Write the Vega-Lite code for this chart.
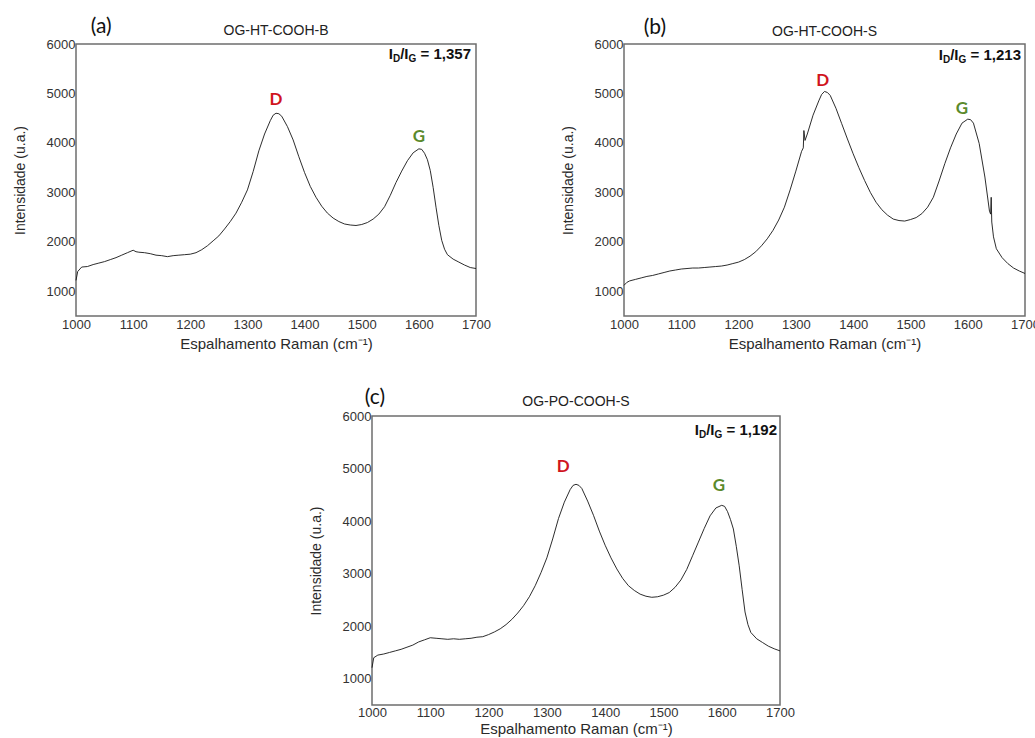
{
  "$schema": "https://vega.github.io/schema/vega-lite/v6.json",
  "background": "white",
  "padding": {"left": 12, "top": 14, "right": 0, "bottom": 0},
  "spacing": 34,
  "datasets": {
    "specA": [
      {"x":1000,"y":1220},{"x":1003,"y":1400},{"x":1010,"y":1490},{"x":1020,"y":1500},{"x":1030,"y":1540},{"x":1040,"y":1570},{"x":1050,"y":1600},{"x":1060,"y":1640},{"x":1070,"y":1680},{"x":1080,"y":1730},{"x":1090,"y":1780},{"x":1100,"y":1830},{"x":1105,"y":1800},{"x":1110,"y":1790},{"x":1120,"y":1780},{"x":1130,"y":1760},{"x":1140,"y":1730},{"x":1150,"y":1720},{"x":1160,"y":1700},{"x":1170,"y":1720},{"x":1180,"y":1730},{"x":1190,"y":1740},{"x":1200,"y":1750},{"x":1210,"y":1780},{"x":1220,"y":1840},{"x":1230,"y":1920},{"x":1240,"y":2020},{"x":1250,"y":2120},{"x":1260,"y":2260},{"x":1270,"y":2410},{"x":1280,"y":2580},{"x":1290,"y":2800},{"x":1300,"y":3050},{"x":1310,"y":3420},{"x":1320,"y":3840},{"x":1330,"y":4180},{"x":1340,"y":4450},{"x":1345,"y":4560},{"x":1350,"y":4600},{"x":1355,"y":4590},{"x":1360,"y":4540},{"x":1370,"y":4330},{"x":1380,"y":4060},{"x":1390,"y":3720},{"x":1400,"y":3400},{"x":1410,"y":3120},{"x":1420,"y":2900},{"x":1430,"y":2720},{"x":1440,"y":2580},{"x":1450,"y":2480},{"x":1460,"y":2410},{"x":1470,"y":2360},{"x":1480,"y":2340},{"x":1490,"y":2330},{"x":1500,"y":2350},{"x":1510,"y":2390},{"x":1520,"y":2460},{"x":1530,"y":2560},{"x":1540,"y":2710},{"x":1550,"y":2940},{"x":1560,"y":3200},{"x":1570,"y":3430},{"x":1580,"y":3640},{"x":1590,"y":3800},{"x":1600,"y":3880},{"x":1605,"y":3870},{"x":1610,"y":3790},{"x":1615,"y":3660},{"x":1620,"y":3440},{"x":1625,"y":3100},{"x":1630,"y":2700},{"x":1635,"y":2330},{"x":1640,"y":2030},{"x":1645,"y":1850},{"x":1650,"y":1740},{"x":1660,"y":1650},{"x":1670,"y":1590},{"x":1680,"y":1530},{"x":1690,"y":1480},{"x":1700,"y":1460}
    ],
    "specB": [
      {"x":1000,"y":1120},{"x":1005,"y":1180},{"x":1010,"y":1210},{"x":1020,"y":1240},{"x":1030,"y":1270},{"x":1040,"y":1300},{"x":1050,"y":1320},{"x":1060,"y":1350},{"x":1070,"y":1380},{"x":1080,"y":1410},{"x":1090,"y":1430},{"x":1100,"y":1450},{"x":1110,"y":1460},{"x":1120,"y":1470},{"x":1130,"y":1470},{"x":1140,"y":1480},{"x":1150,"y":1490},{"x":1160,"y":1500},{"x":1170,"y":1510},{"x":1180,"y":1530},{"x":1190,"y":1560},{"x":1200,"y":1590},{"x":1210,"y":1640},{"x":1220,"y":1710},{"x":1230,"y":1800},{"x":1240,"y":1920},{"x":1250,"y":2060},{"x":1260,"y":2230},{"x":1270,"y":2440},{"x":1280,"y":2700},{"x":1290,"y":3050},{"x":1300,"y":3430},{"x":1310,"y":3830},{"x":1313,"y":3900},{"x":1314,"y":4250},{"x":1316,"y":4050},{"x":1320,"y":4180},{"x":1330,"y":4560},{"x":1340,"y":4850},{"x":1345,"y":4980},{"x":1350,"y":5040},{"x":1355,"y":5020},{"x":1360,"y":4960},{"x":1370,"y":4700},{"x":1380,"y":4390},{"x":1390,"y":4080},{"x":1400,"y":3780},{"x":1410,"y":3500},{"x":1420,"y":3240},{"x":1430,"y":3000},{"x":1440,"y":2800},{"x":1450,"y":2650},{"x":1460,"y":2540},{"x":1470,"y":2460},{"x":1480,"y":2430},{"x":1490,"y":2420},{"x":1500,"y":2450},{"x":1510,"y":2490},{"x":1520,"y":2570},{"x":1530,"y":2700},{"x":1540,"y":2900},{"x":1550,"y":3230},{"x":1560,"y":3580},{"x":1570,"y":3900},{"x":1580,"y":4180},{"x":1590,"y":4400},{"x":1600,"y":4480},{"x":1605,"y":4470},{"x":1610,"y":4400},{"x":1620,"y":3990},{"x":1630,"y":3310},{"x":1638,"y":2620},{"x":1640,"y":2560},{"x":1641,"y":2900},{"x":1642,"y":2400},{"x":1645,"y":2100},{"x":1650,"y":1860},{"x":1660,"y":1680},{"x":1670,"y":1560},{"x":1680,"y":1470},{"x":1690,"y":1410},{"x":1700,"y":1360}
    ],
    "specC": [
      {"x":1000,"y":1210},{"x":1003,"y":1400},{"x":1010,"y":1450},{"x":1020,"y":1470},{"x":1030,"y":1500},{"x":1040,"y":1530},{"x":1050,"y":1560},{"x":1060,"y":1600},{"x":1070,"y":1640},{"x":1080,"y":1700},{"x":1090,"y":1740},{"x":1100,"y":1780},{"x":1110,"y":1770},{"x":1120,"y":1760},{"x":1130,"y":1750},{"x":1140,"y":1760},{"x":1150,"y":1750},{"x":1160,"y":1760},{"x":1170,"y":1770},{"x":1180,"y":1790},{"x":1190,"y":1800},{"x":1200,"y":1840},{"x":1210,"y":1890},{"x":1220,"y":1950},{"x":1230,"y":2030},{"x":1240,"y":2130},{"x":1250,"y":2250},{"x":1260,"y":2390},{"x":1270,"y":2560},{"x":1280,"y":2770},{"x":1290,"y":3020},{"x":1300,"y":3300},{"x":1310,"y":3660},{"x":1320,"y":4050},{"x":1330,"y":4360},{"x":1340,"y":4600},{"x":1345,"y":4680},{"x":1350,"y":4700},{"x":1355,"y":4680},{"x":1360,"y":4620},{"x":1370,"y":4380},{"x":1380,"y":4110},{"x":1390,"y":3810},{"x":1400,"y":3540},{"x":1410,"y":3300},{"x":1420,"y":3090},{"x":1430,"y":2910},{"x":1440,"y":2770},{"x":1450,"y":2680},{"x":1460,"y":2610},{"x":1470,"y":2570},{"x":1480,"y":2550},{"x":1490,"y":2560},{"x":1500,"y":2590},{"x":1510,"y":2640},{"x":1520,"y":2740},{"x":1530,"y":2880},{"x":1540,"y":3080},{"x":1550,"y":3340},{"x":1560,"y":3600},{"x":1570,"y":3860},{"x":1580,"y":4100},{"x":1590,"y":4250},{"x":1600,"y":4300},{"x":1605,"y":4280},{"x":1610,"y":4180},{"x":1615,"y":4030},{"x":1620,"y":3850},{"x":1625,"y":3520},{"x":1630,"y":3150},{"x":1635,"y":2700},{"x":1640,"y":2270},{"x":1645,"y":2030},{"x":1650,"y":1880},{"x":1660,"y":1760},{"x":1670,"y":1690},{"x":1680,"y":1620},{"x":1690,"y":1570},{"x":1700,"y":1530}
    ],
    "peaks": [
      {"panel":"a","band":"D","x":1350,"y":4767},{"panel":"a","band":"G","x":1600,"y":4018},
      {"panel":"b","band":"D","x":1347,"y":5151},{"panel":"b","band":"G","x":1590,"y":4584},
      {"panel":"c","band":"D","x":1328,"y":4934},{"panel":"c","band":"G","x":1595,"y":4573}
    ],
    "ratioMain": [
      {"panel":"a","text":"I","x":1554.75,"y":5697},{"panel":"a","text":"/I","x":1581.9,"y":5697},{"panel":"a","text":"= 1,357","x":1691.25,"y":5697},
      {"panel":"b","text":"I","x":1556.9,"y":5676},{"panel":"b","text":"/I","x":1583.9,"y":5676},{"panel":"b","text":"= 1,213","x":1693.0,"y":5676},
      {"panel":"c","text":"I","x":1561.0,"y":5638},{"panel":"c","text":"/I","x":1587.6,"y":5638},{"panel":"c","text":"= 1,192","x":1694.9,"y":5638}
    ],
    "ratioSub": [
      {"panel":"a","text":"D","x":1567.4,"y":5626},{"panel":"a","text":"G","x":1595.5,"y":5626},
      {"panel":"b","text":"D","x":1569.4,"y":5606},{"panel":"b","text":"G","x":1597.5,"y":5606},
      {"panel":"c","text":"D","x":1573.4,"y":5572},{"panel":"c","text":"G","x":1601.0,"y":5572}
    ],
    "tags": [
      {"panel":"a","text":"(a)","x":1044,"y":6232},
      {"panel":"b","text":"(b)","x":1054,"y":6200},
      {"panel":"c","text":"(c)","x":1005,"y":6229}
    ]
  },
  "vconcat": [
    {
      "spacing": 68,
      "hconcat": [
        {
          "width": 400, "height": 272,
          "title": {"text": "OG-HT-COOH-B"},
          "encoding": {
            "x": {"field": "x", "type": "quantitative", "scale": {"domain": [1000, 1700], "nice": false, "zero": false},
                  "axis": {"title": "Espalhamento Raman (cm⁻¹)", "values": [1000,1100,1200,1300,1400,1500,1600,1700], "format": "d"}},
            "y": {"field": "y", "type": "quantitative", "scale": {"domain": [500, 6000], "nice": false, "zero": false},
                  "axis": {"title": "Intensidade (u.a.)", "values": [1000,2000,3000,4000,5000,6000], "format": "d"}}
          },
          "layer": [
            {"data": {"name": "specA"}, "mark": {"type": "line", "color": "#151515", "strokeWidth": 0.9}},
            {"data": {"name": "peaks"}, "transform": [{"filter": "datum.panel === 'a'"}],
             "mark": {"type": "text", "font": "Lato", "fontSize": 17, "fontWeight": "bold", "baseline": "alphabetic", "align": "center"},
             "encoding": {
               "text": {"field": "band"},
               "color": {"field": "band", "type": "nominal", "scale": {"domain": ["D", "G"], "range": ["#d0141e", "#5b8a2c"]}, "legend": null}
             }},
            {"data": {"name": "ratioMain"}, "transform": [{"filter": "datum.panel === 'a'"}],
             "mark": {"type": "text", "fontSize": 15, "fontWeight": "bold", "baseline": "alphabetic", "align": "right", "color": "#111"},
             "encoding": {"text": {"field": "text"}}},
            {"data": {"name": "ratioSub"}, "transform": [{"filter": "datum.panel === 'a'"}],
             "mark": {"type": "text", "fontSize": 10, "fontWeight": "bold", "baseline": "alphabetic", "align": "right", "color": "#111"},
             "encoding": {"text": {"field": "text"}}},
            {"data": {"name": "tags"}, "transform": [{"filter": "datum.panel === 'a'"}],
             "mark": {"type": "text", "font": "Lato", "fontSize": 21, "baseline": "alphabetic", "align": "center", "color": "#111"},
             "encoding": {"text": {"field": "text"}}}
          ]
        },
        {
          "width": 401, "height": 272,
          "title": {"text": "OG-HT-COOH-S"},
          "encoding": {
            "x": {"field": "x", "type": "quantitative", "scale": {"domain": [1000, 1700], "nice": false, "zero": false},
                  "axis": {"title": "Espalhamento Raman (cm⁻¹)", "values": [1000,1100,1200,1300,1400,1500,1600,1700], "format": "d"}},
            "y": {"field": "y", "type": "quantitative", "scale": {"domain": [500, 6000], "nice": false, "zero": false},
                  "axis": {"title": "Intensidade (u.a.)", "values": [1000,2000,3000,4000,5000,6000], "format": "d"}}
          },
          "layer": [
            {"data": {"name": "specB"}, "mark": {"type": "line", "color": "#151515", "strokeWidth": 0.9}},
            {"data": {"name": "peaks"}, "transform": [{"filter": "datum.panel === 'b'"}],
             "mark": {"type": "text", "font": "Lato", "fontSize": 17, "fontWeight": "bold", "baseline": "alphabetic", "align": "center"},
             "encoding": {
               "text": {"field": "band"},
               "color": {"field": "band", "type": "nominal", "scale": {"domain": ["D", "G"], "range": ["#d0141e", "#5b8a2c"]}, "legend": null}
             }},
            {"data": {"name": "ratioMain"}, "transform": [{"filter": "datum.panel === 'b'"}],
             "mark": {"type": "text", "fontSize": 15, "fontWeight": "bold", "baseline": "alphabetic", "align": "right", "color": "#111"},
             "encoding": {"text": {"field": "text"}}},
            {"data": {"name": "ratioSub"}, "transform": [{"filter": "datum.panel === 'b'"}],
             "mark": {"type": "text", "fontSize": 10, "fontWeight": "bold", "baseline": "alphabetic", "align": "right", "color": "#111"},
             "encoding": {"text": {"field": "text"}}},
            {"data": {"name": "tags"}, "transform": [{"filter": "datum.panel === 'b'"}],
             "mark": {"type": "text", "font": "Lato", "fontSize": 21, "baseline": "alphabetic", "align": "center", "color": "#111"},
             "encoding": {"text": {"field": "text"}}}
          ]
        }
      ]
    },
    {
      "spacing": 10,
      "hconcat": [
        {
          "width": 222, "height": 10,
          "view": {"stroke": null},
          "data": {"values": [{}]},
          "mark": {"type": "text", "text": ""}
        },
        {
          "width": 408, "height": 289,
          "title": {"text": "OG-PO-COOH-S"},
          "encoding": {
            "x": {"field": "x", "type": "quantitative", "scale": {"domain": [1000, 1700], "nice": false, "zero": false},
                  "axis": {"title": "Espalhamento Raman (cm⁻¹)", "values": [1000,1100,1200,1300,1400,1500,1600,1700], "format": "d", "labelPadding": 1, "titlePadding": 2}},
            "y": {"field": "y", "type": "quantitative", "scale": {"domain": [500, 6000], "nice": false, "zero": false},
                  "axis": {"title": "Intensidade (u.a.)", "values": [1000,2000,3000,4000,5000,6000], "format": "d"}}
          },
          "layer": [
            {"data": {"name": "specC"}, "mark": {"type": "line", "color": "#151515", "strokeWidth": 0.9}},
            {"data": {"name": "peaks"}, "transform": [{"filter": "datum.panel === 'c'"}],
             "mark": {"type": "text", "font": "Lato", "fontSize": 17, "fontWeight": "bold", "baseline": "alphabetic", "align": "center"},
             "encoding": {
               "text": {"field": "band"},
               "color": {"field": "band", "type": "nominal", "scale": {"domain": ["D", "G"], "range": ["#d0141e", "#5b8a2c"]}, "legend": null}
             }},
            {"data": {"name": "ratioMain"}, "transform": [{"filter": "datum.panel === 'c'"}],
             "mark": {"type": "text", "fontSize": 15, "fontWeight": "bold", "baseline": "alphabetic", "align": "right", "color": "#111"},
             "encoding": {"text": {"field": "text"}}},
            {"data": {"name": "ratioSub"}, "transform": [{"filter": "datum.panel === 'c'"}],
             "mark": {"type": "text", "fontSize": 10, "fontWeight": "bold", "baseline": "alphabetic", "align": "right", "color": "#111"},
             "encoding": {"text": {"field": "text"}}},
            {"data": {"name": "tags"}, "transform": [{"filter": "datum.panel === 'c'"}],
             "mark": {"type": "text", "font": "Lato", "fontSize": 21, "baseline": "alphabetic", "align": "center", "color": "#111"},
             "encoding": {"text": {"field": "text"}}}
          ]
        }
      ]
    }
  ],
  "config": {
    "font": "Liberation Sans",
    "view": {"stroke": "#6e6e6e", "strokeWidth": 1.5},
    "axis": {
      "grid": false, "ticks": false, "domain": false,
      "labelFontSize": 13, "labelColor": "#333333", "labelFlush": false, "labelOverlap": false,
      "titleFontSize": 15, "titleFontWeight": "normal", "titleColor": "#2a2a2a"
    },
    "axisX": {"labelPadding": 2, "titlePadding": 5},
    "axisY": {"labelPadding": 1, "titlePadding": 19, "titleFontSize": 14},
    "title": {"fontSize": 14, "fontWeight": "normal", "color": "#222222", "offset": -22, "frame": "group", "anchor": "middle"}
  }
}
